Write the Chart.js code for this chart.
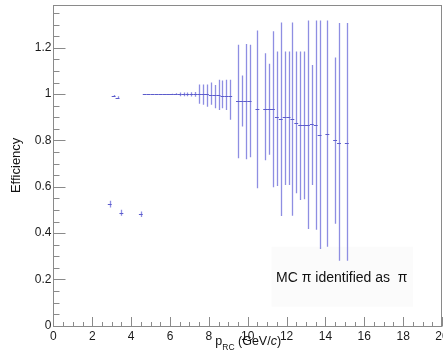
<!DOCTYPE html>
<html><head><meta charset="utf-8">
<script src="https://cdn.jsdelivr.net/npm/chart.js@4/dist/chart.umd.min.js"></script>
<style>html,body{margin:0;padding:0;background:#fff;overflow:hidden}canvas{display:block}</style>
</head><body>
<canvas id="c" width="443" height="361"></canvas>
<script>
// ---- data ----
const lowCenters = [2.9, 3.1, 3.3, 3.5, 4.5];
const lowValues  = [0.525, 0.993, 0.985, 0.488, 0.481];
const lowUpper   = [0.540, 0.996, 0.991, 0.501, 0.493];
const lowLower   = [0.510, 0.990, 0.979, 0.475, 0.469];

const flatCenters = [4.7, 4.9, 5.1, 5.3, 5.5, 5.7, 5.9, 6.1, 6.3];
const flatValues  = [1, 1, 1, 1, 1, 1, 1, 1, 1];
const flatUpper   = [1, 1, 1, 1, 1, 1, 1, 1.002, 1.004];
const flatLower   = [1, 1, 1, 1, 1, 1, 1, 0.998, 0.996];

const binCenters = [6.5, 6.7, 6.9, 7.1, 7.3, 7.5, 7.7, 7.9, 8.1, 8.3, 8.5, 8.7, 8.9, 9.1,
                    9.5, 9.7, 9.9, 10.1, 10.5, 10.9, 11.1, 11.3, 11.5, 11.7, 11.9, 12.1, 12.3,
                    12.5, 12.7, 12.9, 13.1, 13.3, 13.5, 13.7, 14.1, 14.5, 14.7, 15.1];
const binValues  = [0.999, 0.999, 0.999, 0.999, 0.999, 0.999, 0.999, 0.999, 0.998, 0.996, 0.996, 0.993, 0.993, 0.993,
                    0.971, 0.971, 0.971, 0.971, 0.937, 0.937, 0.937, 0.937, 0.900, 0.893, 0.900, 0.900, 0.893,
                    0.877, 0.867, 0.867, 0.867, 0.869, 0.866, 0.824, 0.828, 0.800, 0.791, 0.791];
const binUpper   = [1.007, 1.007, 1.007, 1.008, 1.009, 1.042, 1.042, 1.042, 1.050, 1.040, 1.062, 1.059, 1.062, 1.062,
                    1.213, 1.080, 1.217, 1.213, 1.275, 1.177, 1.131, 1.272, 1.184, 1.309, 1.184, 1.184, 1.309,
                    1.184, 1.184, 1.184, 1.318, 1.126, 1.318, 1.318, 1.318, 1.158, 1.307, 1.307];
const binLower   = [0.991, 0.991, 0.991, 0.990, 0.989, 0.958, 0.954, 0.946, 0.954, 0.939, 0.932, 0.939, 0.932, 0.889,
                    0.723, 0.860, 0.719, 0.728, 0.594, 0.715, 0.738, 0.598, 0.603, 0.474, 0.608, 0.608, 0.475,
                    0.572, 0.543, 0.546, 0.418, 0.608, 0.414, 0.331, 0.341, 0.440, 0.280, 0.280];
const binHalfWidth = 0.1;

const xTickValues = [0, 2, 4, 6, 8, 10, 12, 14, 16, 18, 20];
const xTickLabels = ['0', '2', '4', '6', '8', '10', '12', '14', '16', '18', '20'];
const yTickValues = [0, 0.2, 0.4, 0.6, 0.8, 1, 1.2];
const yTickLabels = ['0', '0.2', '0.4', '0.6', '0.8', '1', '1.2'];

const xTitleParts = ['p', 'RC', ' (GeV/', 'c', ')'];
const yTitle = 'Efficiency';
const legendText = 'MC \u03c0 identified as  \u03c0';

// ---- build ----
function pts(c, v, u, l) {
  return c.map((x, i) => ({ x: x, y: v[i], hi: u[i], lo: l[i] }));
}
const hColor = 'rgb(92,92,204)';
const vColor = 'rgb(142,142,226)';
Chart.defaults.font.family = "'Liberation Sans', Arial, Helvetica, sans-serif";

const errorBarPlugin = {
  id: 'errorBars',
  afterDatasetsDraw(chart) {
    const ctx = chart.ctx, xs = chart.scales.x, ys = chart.scales.y, a = chart.chartArea;
    ctx.save();
    ctx.beginPath(); ctx.rect(a.left, a.top, a.right - a.left, a.bottom - a.top); ctx.clip();
    chart.data.datasets.forEach(ds => {
      ds.data.forEach(p => {
        const xc = Math.round(xs.getPixelForValue(p.x)) + 0.5;
        if (p.hi !== p.lo) {
          ctx.lineWidth = 1.3;
          ctx.strokeStyle = vColor;
          ctx.beginPath(); ctx.moveTo(xc, ys.getPixelForValue(p.hi)); ctx.lineTo(xc, ys.getPixelForValue(p.lo)); ctx.stroke();
        }
      });
    });
    chart.data.datasets.forEach(ds => {
      ds.data.forEach(p => {
        const x0 = xs.getPixelForValue(p.x - binHalfWidth), x1 = xs.getPixelForValue(p.x + binHalfWidth);
        const yc = Math.round(ys.getPixelForValue(p.y)) + 0.5;
        ctx.lineWidth = 1;
        ctx.strokeStyle = hColor;
        ctx.beginPath(); ctx.moveTo(x0, yc); ctx.lineTo(x1, yc); ctx.stroke();
      });
    });
    ctx.restore();
  }
};

const framePlugin = {
  id: 'frame',
  beforeDatasetsDraw(chart) {
    const ctx = chart.ctx, xs = chart.scales.x, ys = chart.scales.y, a = chart.chartArea;
    ctx.save();
    // legend box
    const lx0 = xs.getPixelForValue(11.23), lx1 = xs.getPixelForValue(18.5);
    const ly0 = ys.getPixelForValue(0.341), ly1 = ys.getPixelForValue(0.082);
    ctx.fillStyle = '#fbfbfb';
    ctx.fillRect(lx0, ly0, lx1 - lx0, ly1 - ly0);
    ctx.fillStyle = '#111';
    ctx.font = "14px 'Liberation Sans', Arial, sans-serif";
    ctx.textAlign = 'center'; ctx.textBaseline = 'alphabetic';
    ctx.fillText(legendText, xs.getPixelForValue(14.84), ys.getPixelForValue(0.187));
    // frame
    ctx.strokeStyle = '#8a8a8a'; ctx.lineWidth = 1;
    ctx.strokeRect(Math.round(a.left) + 0.5, Math.round(a.top) + 0.5,
                   Math.round(a.right) - Math.round(a.left) - 1, Math.round(a.bottom) - Math.round(a.top));
    // ticks (inside the frame)
    const bottom = Math.round(a.bottom) + 0.5, left = Math.round(a.left) + 0.5;
    ctx.beginPath();
    for (let v = 0; v <= xs.max + 1e-9; v += 0.5) {
      const px = Math.round(xs.getPixelForValue(v)) + 0.5;
      const major = xTickValues.some(t => Math.abs(t - v) < 1e-6);
      ctx.moveTo(px, bottom); ctx.lineTo(px, bottom - (major ? 9.5 : 4.5));
    }
    for (let i = 0; i * 0.05 <= ys.max + 1e-9; i++) {
      const v = i * 0.05;
      const py = Math.round(ys.getPixelForValue(v)) + 0.5;
      const major = yTickValues.some(t => Math.abs(t - v) < 1e-6);
      ctx.moveTo(left, py); ctx.lineTo(left + (major ? 12 : 6), py);
    }
    ctx.stroke();
    ctx.restore();
  },
  afterDraw(chart) {
    const ctx = chart.ctx, xs = chart.scales.x;
    ctx.save();
    ctx.fillStyle = '#111';
    ctx.textBaseline = 'alphabetic'; ctx.textAlign = 'left';
    const fonts = ["12.5px 'Liberation Sans', Arial, sans-serif", "8.5px 'Liberation Sans', Arial, sans-serif",
                   "12.5px 'Liberation Sans', Arial, sans-serif", "italic 12.5px 'Liberation Sans', Arial, sans-serif",
                   "12.5px 'Liberation Sans', Arial, sans-serif"];
    const dy = [0, 5, 0, 0, 0];
    let w = 0;
    const ws = xTitleParts.map((t, i) => { ctx.font = fonts[i]; const m = ctx.measureText(t).width; w += m; return m; });
    let x = xs.getPixelForValue(10) - w / 2 + 0.5;
    const base = 345;
    xTitleParts.forEach((t, i) => { ctx.font = fonts[i]; ctx.fillText(t, x, base + dy[i]); x += ws[i]; });
    ctx.restore();
  }
};

new Chart(document.getElementById('c'), {
  type: 'scatter',
  data: {
    datasets: [
      { data: pts(lowCenters, lowValues, lowUpper, lowLower), pointRadius: 0, showLine: false },
      { data: pts(flatCenters, flatValues, flatUpper, flatLower), pointRadius: 0, showLine: false },
      { data: pts(binCenters, binValues, binUpper, binLower), pointRadius: 0, showLine: false }
    ]
  },
  options: {
    responsive: false, animation: false, devicePixelRatio: 1,
    layout: { padding: { left: 0, right: 1, top: 5, bottom: 0 } },
    plugins: { legend: { display: false }, tooltip: { enabled: false } },
    scales: {
      x: {
        type: 'linear', min: 0, max: 20,
        afterBuildTicks: s => { s.ticks = xTickValues.map(v => ({ value: v })); },
        afterFit: s => { s.height = 35.3; s.paddingLeft = 0; s.paddingRight = 0; },
        grid: { display: false, drawTicks: false },
        border: { display: false },
        ticks: { autoSkip: false, maxRotation: 0, padding: 4, color: '#1a1a1a', font: { size: 12 },
                 callback: (v) => xTickLabels[xTickValues.indexOf(v)] }
      },
      y: {
        type: 'linear', min: 0, max: 1.385,
        afterBuildTicks: s => { s.ticks = yTickValues.map(v => ({ value: v })); },
        afterFit: s => { s.width = 53.4; s.paddingTop = 0; s.paddingBottom = 0; },
        grid: { display: false, drawTicks: false },
        border: { display: false },
        title: { display: true, text: yTitle, color: '#111', font: { size: 13 }, padding: { top: 9, bottom: 0 } },
        ticks: { padding: 2, color: '#1a1a1a', font: { size: 12 },
                 callback: (v) => yTickLabels[yTickValues.indexOf(v)] }
      }
    }
  },
  plugins: [framePlugin, errorBarPlugin]
});
</script>
</body></html>
